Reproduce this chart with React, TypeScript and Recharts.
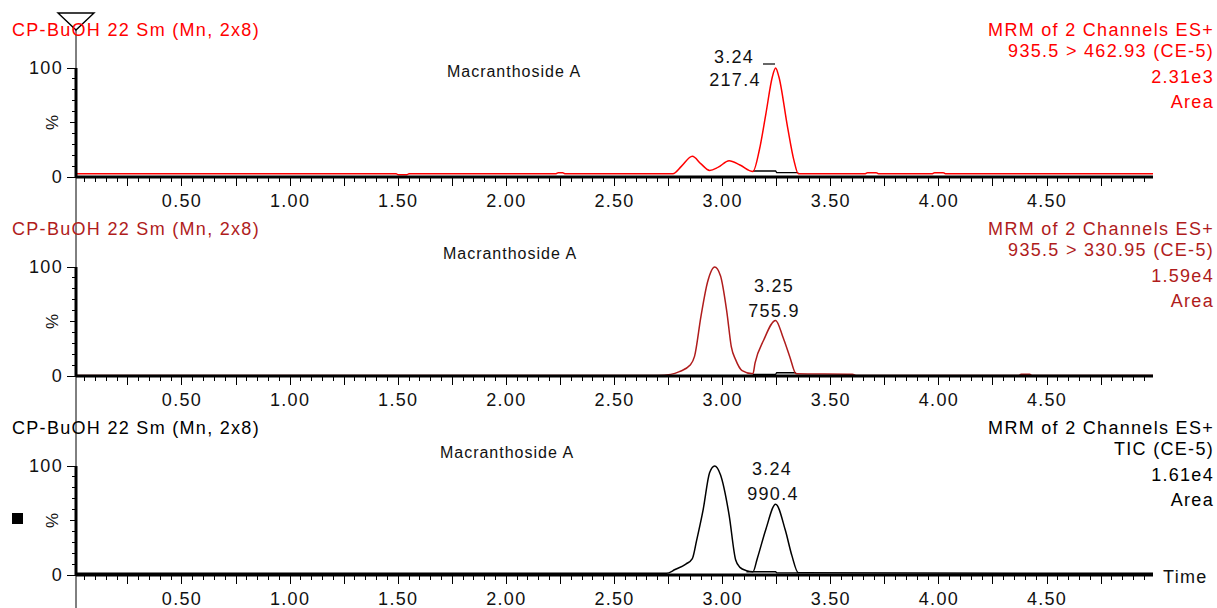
import { LineChart, Line, XAxis, YAxis } from "recharts";

// retention time (min) / relative intensity (%)
const p1Times = [0.01, 1.49, 1.5, 1.54, 1.55, 2.23, 2.24, 2.26, 2.27, 2.77, 2.81, 2.86, 2.9, 2.94, 2.98, 3.03, 3.08, 3.14, 3.17, 3.2, 3.23, 3.245, 3.26, 3.3, 3.33, 3.35, 3.66, 3.67, 3.71, 3.72, 3.97, 3.98, 4.02, 4.03, 4.99];
const p1Values = [3, 3, 2, 2, 3, 3, 4, 4, 3, 3, 10, 19, 12, 6, 9, 15, 11, 5, 25, 58, 92, 100, 92, 46, 15, 3, 3, 4, 4, 3, 3, 4, 4, 3, 3];
const p1BaseTimes = [3.14, 3.245, 3.25, 3.35];
const p1BaseValues = [5.5, 5.5, 4, 4];

const p2Times = [0.01, 2.7, 2.76, 2.8, 2.85, 2.87, 2.9, 2.93, 2.963, 2.99, 3.02, 3.04, 3.06, 3.09, 3.14, 3.15, 3.19, 3.245, 3.28, 3.31, 3.34, 3.6, 3.62, 4.37, 4.38, 4.42, 4.43, 4.99];
const p2Values = [0.5, 0.5, 1.5, 4, 10, 18, 55, 86, 100, 92, 58, 27, 15, 5, 2, 12, 33, 51, 35, 18, 2, 1.5, 0.5, 0.5, 1.5, 1.5, 0.5, 0.5];
const p2BaseTimes = [3.14, 3.245, 3.25, 3.34];
const p2BaseValues = [1.5, 1.5, 3, 3];

const p3Times = [0.01, 2.74, 2.78, 2.83, 2.86, 2.88, 2.91, 2.94, 2.963, 2.99, 3.03, 3.06, 3.08, 3.11, 3.14, 3.16, 3.2, 3.245, 3.29, 3.32, 3.35, 4.99];
const p3Values = [1.5, 1.5, 5, 10, 15, 32, 60, 94, 100, 92, 55, 14, 7, 4, 3, 15, 42, 65, 41, 18, 2, 1.5];
const p3BaseTimes = [3.11, 3.245, 3.25, 3.35];
const p3BaseValues = [3, 3, 2, 2];

const xLabelTicks = [0.5, 1.0, 1.5, 2.0, 2.5, 3.0, 3.5, 4.0, 4.5];
const xMinorTicks = Array.from({ length: 99 }, (_, i) => Math.round((i + 1) * 5) / 100);
const yTicks = [0, 10, 20, 30, 40, 50, 60, 70, 80, 90, 100];

const FONT = '"Liberation Sans", Arial, sans-serif';
const SPACING = 1.3;

const panels = [
  {
    top: 0,
    color: "#ff0000",
    times: p1Times,
    values: p1Values,
    baseTimes: p1BaseTimes,
    baseValues: p1BaseValues,
    info: ["MRM of 2 Channels ES+", "935.5 > 462.93 (CE-5)", "2.31e3", "Area"],
    compoundX: 514,
    compoundY: 77,
  },
  {
    top: 199,
    color: "#b01c1c",
    times: p2Times,
    values: p2Values,
    baseTimes: p2BaseTimes,
    baseValues: p2BaseValues,
    info: ["MRM of 2 Channels ES+", "935.5 > 330.95 (CE-5)", "1.59e4", "Area"],
    compoundX: 510,
    compoundY: 60,
  },
  {
    top: 398,
    color: "#000000",
    times: p3Times,
    values: p3Values,
    baseTimes: p3BaseTimes,
    baseValues: p3BaseValues,
    info: ["MRM of 2 Channels ES+", "TIC (CE-5)", "1.61e4", "Area"],
    compoundX: 507,
    compoundY: 60,
  },
];

const zip = (ts: number[], vs: number[]) => ts.map((t, i) => ({ t, v: vs[i] }));

const XTick = (props: any) => {
  const { x, y, payload } = props;
  const k = Math.round(payload.value * 100);
  const major = k % 25 === 0;
  const labelled = xLabelTicks.some((v) => Math.round(v * 100) === k);
  return (
    <g>
      <line x1={x} x2={x} y1={y} y2={y + (major ? 9 : 5)} stroke="#000" strokeWidth={1} shapeRendering="crispEdges" />
      {labelled && (
        <text x={x} y={y + 30} textAnchor="middle" fontFamily={FONT} fontSize={18} letterSpacing={SPACING} fill="#111">
          {payload.value.toFixed(2)}
        </text>
      )}
    </g>
  );
};

const YTick = (props: any) => {
  const { x, y, payload } = props;
  const v = payload.value;
  const len = v === 0 || v === 100 ? 9 : v === 50 ? 6 : 4;
  return (
    <g>
      <line x1={x - len} x2={x} y1={y} y2={y} stroke="#000" strokeWidth={1} shapeRendering="crispEdges" />
      {(v === 0 || v === 100) && (
        <text x={x - 13} y={y + 6} textAnchor="end" fontFamily={FONT} fontSize={18} letterSpacing={SPACING} fill="#111">
          {v}
        </text>
      )}
      {v === 50 && (
        <text x={x - 18} y={y} textAnchor="middle" transform={`rotate(-90 ${x - 18} ${y})`} fontFamily={FONT} fontSize={17} fill="#111">
          %
        </text>
      )}
    </g>
  );
};

function Panel({ p }: { p: (typeof panels)[number] }) {
  return (
    <div style={{ position: "absolute", left: 0, top: p.top }}>
      <LineChart width={1217} height={211} margin={{ top: 68, right: 64, bottom: 0, left: 0 }}>
        <XAxis
          type="number"
          dataKey="t"
          domain={[0.01, 4.99]}
          allowDataOverflow
          ticks={xMinorTicks}
          interval={0}
          tick={<XTick />}
          tickLine={false}
          tickSize={0}
          tickMargin={0}
          height={34}
          axisLine={{ stroke: "#000", strokeWidth: 3 }}
        />
        <YAxis
          type="number"
          domain={[0, 100]}
          ticks={yTicks}
          interval={0}
          tick={<YTick />}
          tickLine={false}
          tickSize={0}
          tickMargin={0}
          width={76}
          axisLine={{ stroke: "#000", strokeWidth: 3 }}
        />
        <Line
          data={zip(p.baseTimes, p.baseValues)}
          dataKey="v"
          type="linear"
          stroke="#000"
          strokeWidth={1.3}
          dot={false}
          isAnimationActive={false}
        />
        <Line
          data={zip(p.times, p.values)}
          dataKey="v"
          type="monotone"
          stroke={p.color}
          strokeWidth={1.5}
          dot={false}
          isAnimationActive={false}
        />
      </LineChart>
    </div>
  );
}

export default function App() {
  return (
    <div style={{ position: "absolute", left: 0, top: 0, width: 1217, height: 608, background: "#fff", overflow: "hidden" }}>
      {panels.map((p, i) => (
        <Panel key={i} p={p} />
      ))}
      <svg width={1217} height={608} style={{ position: "absolute", left: 0, top: 0, pointerEvents: "none" }}>
        <line x1={76} x2={76} y1={30} y2={608} stroke="#000" strokeWidth={1} />
        <polygon points="58,13 94,13 76,30" fill="none" stroke="#000" strokeWidth={1.4} />
        <rect x={12} y={513} width={11} height={11} fill="#000" />
        {panels.map((p, i) => (
          <g key={i} fontFamily={FONT} fontSize={18} letterSpacing={SPACING} fill={p.color}>
            <text x={12} y={p.top + 36}>CP-BuOH 22 Sm (Mn, 2x8)</text>
            {p.info.map((s, j) => (
              <text key={j} x={1214} y={p.top + [36, 57, 83, 108][j]} textAnchor="end">
                {s}
              </text>
            ))}
            <text x={p.compoundX} y={i === 0 ? 77 : p.top + p.compoundY} textAnchor="middle" fontSize={16} letterSpacing={1} fill="#111">
              Macranthoside A
            </text>
          </g>
        ))}
        <g fontFamily={FONT} fontSize={18} letterSpacing={SPACING} fill="#111" textAnchor="middle">
          <text x={734} y={63}>3.24</text>
          <text x={735} y={86}>217.4</text>
          <line x1={763} x2={775} y1={64} y2={64} stroke="#000" strokeWidth={1.2} />
          <text x={774} y={292}>3.25</text>
          <text x={774} y={317}>755.9</text>
          <text x={772} y={475}>3.24</text>
          <text x={773} y={500}>990.4</text>
          <text x={1163} y={583} textAnchor="start">Time</text>
        </g>
      </svg>
    </div>
  );
}
